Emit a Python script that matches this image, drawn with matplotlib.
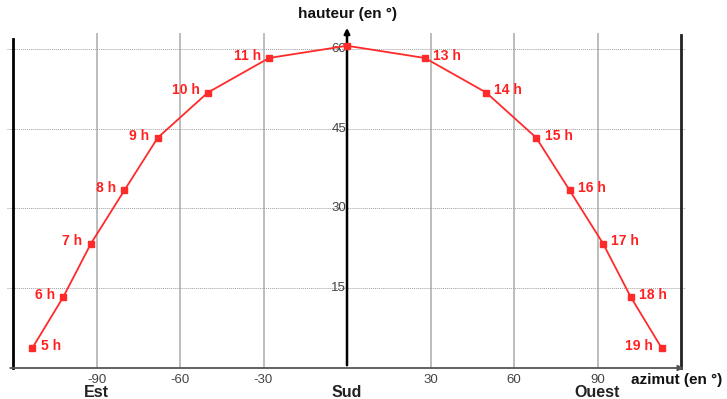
import matplotlib
matplotlib.use("Agg")
import matplotlib.pyplot as plt

plt.rcParams["font.family"] = ["Liberation Sans", "DejaVu Sans"]

# course du soleil : azimut / hauteur (en degres)
heures = ["5 h", "6 h", "7 h", "8 h", "9 h", "10 h", "11 h", "12 h",
          "13 h", "14 h", "15 h", "16 h", "17 h", "18 h", "19 h"]
azimut = [-113, -102, -92, -80, -68, -50, -28, 0, 28, 50, 68, 80, 92, 102, 113]
hauteur = [3.8, 13.3, 23.4, 33.4, 43.3, 51.8, 58.3, 60.6,
           58.3, 51.8, 43.3, 33.4, 23.4, 13.3, 3.8]
# cote de l'etiquette : -1 a gauche, 1 a droite, 0 rien
cote = [1, -1, -1, -1, -1, -1, -1, 0, 1, 1, 1, 1, 1, 1, -1]

xticks = [-90, -60, -30, 30, 60, 90]
yticks = [15, 30, 45, 60]
directions = {-90: "Est", 0: "Sud", 90: "Ouest"}

fig = plt.figure(figsize=(7.27, 3.99), dpi=100)
ax = fig.add_axes([13 / 727, 31 / 399, 668 / 727, 335 / 399])
ax.set_xlim(-120, 120)
ax.set_ylim(0, 63)
ax.axis("off")

# grille verticale
for x in xticks:
    ax.plot([x, x], [0, 63], color="#b8b8b8", lw=1.3, zorder=1)
# grille horizontale pointillee
for y in yticks:
    ax.plot([-122, 121.5], [y, y], color="#a0a0a0", lw=0.7, ls=(0, (1, 1)),
            zorder=1, clip_on=False)

# cadre
ax.plot([-120, -120], [0, 61.9], color="black", lw=2, zorder=2, clip_on=False)
ax.plot([120, 120], [0, 62.6], color="#222222", lw=2, zorder=2, clip_on=False)
ax.annotate("", xy=(122, 0), xytext=(-122, 0),
            arrowprops=dict(arrowstyle="-|>", color="#555555", lw=1.3,
                            mutation_scale=8), annotation_clip=False)
ax.annotate("", xy=(0, 64.5), xytext=(0, 0),
            arrowprops=dict(arrowstyle="-|>", color="black", lw=1.8,
                            mutation_scale=8), annotation_clip=False, zorder=3)

# etiquettes des axes
for x in xticks:
    ax.text(x, -2.3, str(x), ha="center", va="center", fontsize=9.5, color="#444444")
for y in yticks:
    ax.text(-0.3, y, str(y), ha="right", va="center", fontsize=9.5, color="#444444")
for x, nom in directions.items():
    ax.text(x, -4.7, nom, ha="center", va="center", fontsize=11.5,
            fontweight="bold", color="#222222")
ax.text(0, 66.5, "hauteur (en °)", ha="center", va="center", fontsize=11,
        fontweight="bold", color="#111111", clip_on=False)
ax.text(102, -2.3, "azimut (en °)", ha="left", va="center", fontsize=11,
        fontweight="bold", color="#111111", clip_on=False)

# trajectoire
ax.plot(azimut, hauteur, color="#ff2a2a", lw=1.3, marker="s", markersize=4,
        zorder=4, clip_on=False)
for h, x, y, c in zip(heures, azimut, hauteur, cote):
    if c == 0:
        continue
    ax.annotate(h, (x, y), xytext=(6 * c, 1.5), textcoords="offset points",
                ha="left" if c > 0 else "right", va="center", fontsize=10,
                fontweight="bold", color="#ff2020", zorder=5)

fig.savefig("out.png", dpi=100)
